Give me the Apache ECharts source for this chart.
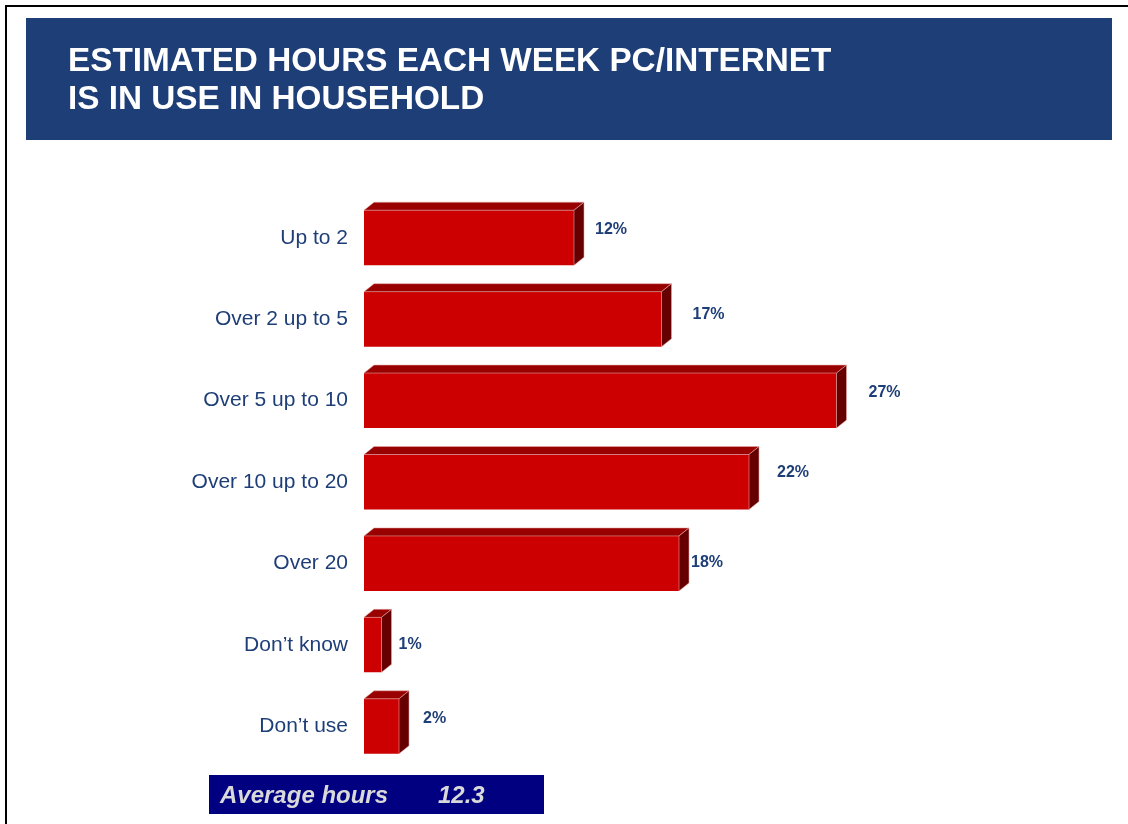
<!DOCTYPE html>
<html>
<head>
<meta charset="utf-8">
<style>
  html, body { margin: 0; padding: 0; background: #ffffff; }
  #chart { width: 1128px; height: 824px; }
</style>
<script src="https://cdn.jsdelivr.net/npm/echarts@6/dist/echarts.min.js"></script>
</head>
<body>
<div id="chart"></div>
<script>
// Hours per week the PC/internet is used in the household
const categories = ['Up to 2', 'Over 2 up to 5', 'Over 5 up to 10', 'Over 10 up to 20', 'Over 20', 'Don\u2019t know', 'Don\u2019t use'];
const shares = [12, 17, 27, 22, 18, 1, 2];
const titleLines = ['ESTIMATED HOURS EACH WEEK PC/INTERNET', 'IS IN USE IN HOUSEHOLD'];
const averageLabel = 'Average hours';
const averageValue = '12.3';

// Value label nudges (px, relative to bar end / band centre)
const labelOffsets = [[21, -8], [31, -5], [32, -8], [28, -9], [12, -1], [17, 0], [24, -8]];

const NAVY = '#1E3E77';
const DEPTH_X = 10, DEPTH_Y = 8, FRONT_H = 55;
const FONT = '"Liberation Sans", Arial, sans-serif';

const chart = echarts.init(document.getElementById('chart'));

function renderBar(params, api) {
  const idx = api.value(0);
  const val = api.value(1);
  const start = api.coord([0, idx]);
  const end = api.coord([val, idx]);
  const x0 = start[0], x1 = end[0];
  const yc = start[1];
  const yt = yc - FRONT_H / 2, yb = yc + FRONT_H / 2;
  const off = labelOffsets[params.dataIndex] || [20, -6];
  return {
    type: 'group',
    children: [
      { type: 'rect', shape: { x: x0, y: yt, width: x1 - x0, height: FRONT_H },
        style: { fill: '#CC0000' } },
      { type: 'polygon', shape: { points: [[x0, yt], [x0 + DEPTH_X, yt - DEPTH_Y], [x1 + DEPTH_X, yt - DEPTH_Y], [x1, yt]] },
        style: { fill: '#990000', stroke: 'rgba(230,170,170,0.7)', lineWidth: 0.8 } },
      { type: 'polygon', shape: { points: [[x1, yt], [x1 + DEPTH_X, yt - DEPTH_Y], [x1 + DEPTH_X, yb - DEPTH_Y], [x1, yb]] },
        style: { fill: '#660000', stroke: 'rgba(230,170,170,0.7)', lineWidth: 0.8 } },
      { type: 'text', x: x1 + off[0], y: yc + off[1],
        style: { text: val + '%', font: 'bold 16px ' + FONT,
                 fill: NAVY, align: 'left', verticalAlign: 'middle' } }
    ]
  };
}

chart.setOption({
  animation: false,
  backgroundColor: '#ffffff',
  grid: { left: 364, top: 197, width: 525, height: 570 },
  xAxis: { type: 'value', min: 0, max: 30, show: false },
  yAxis: {
    type: 'category', data: categories, inverse: true,
    axisLine: { show: false }, axisTick: { show: false }, splitLine: { show: false },
    axisLabel: { margin: 16, fontSize: 21, color: NAVY, fontFamily: FONT }
  },
  series: [{
    type: 'custom',
    renderItem: renderBar,
    encode: { x: 1, y: 0 },
    data: shares.map((v, i) => [i, v]),
    clip: false
  }],
  graphic: [
    // page frame
    { type: 'line', shape: { x1: 5, y1: 6, x2: 1128, y2: 6 }, style: { stroke: '#000', lineWidth: 2 } },
    { type: 'line', shape: { x1: 6, y1: 5, x2: 6, y2: 824 }, style: { stroke: '#000', lineWidth: 2 } },
    // header band
    { type: 'rect', shape: { x: 26, y: 18, width: 1086, height: 122 }, style: { fill: NAVY } },
    { type: 'text', x: 68, y: 62, style: { text: titleLines[0], font: 'bold 33.3px ' + FONT, fill: '#ffffff', verticalAlign: 'middle' } },
    { type: 'text', x: 68, y: 100, style: { text: titleLines[1], font: 'bold 33.3px ' + FONT, fill: '#ffffff', verticalAlign: 'middle' } },
    // average box
    { type: 'rect', shape: { x: 209, y: 775, width: 335, height: 39 }, style: { fill: '#000080' } },
    { type: 'text', x: 220, y: 796, style: { text: averageLabel, font: 'italic bold 24px ' + FONT, fill: '#D9D9D9', verticalAlign: 'middle' } },
    { type: 'text', x: 438, y: 796, style: { text: averageValue, font: 'italic bold 24px ' + FONT, fill: '#D9D9D9', verticalAlign: 'middle' } }
  ]
});
</script>
</body>
</html>
